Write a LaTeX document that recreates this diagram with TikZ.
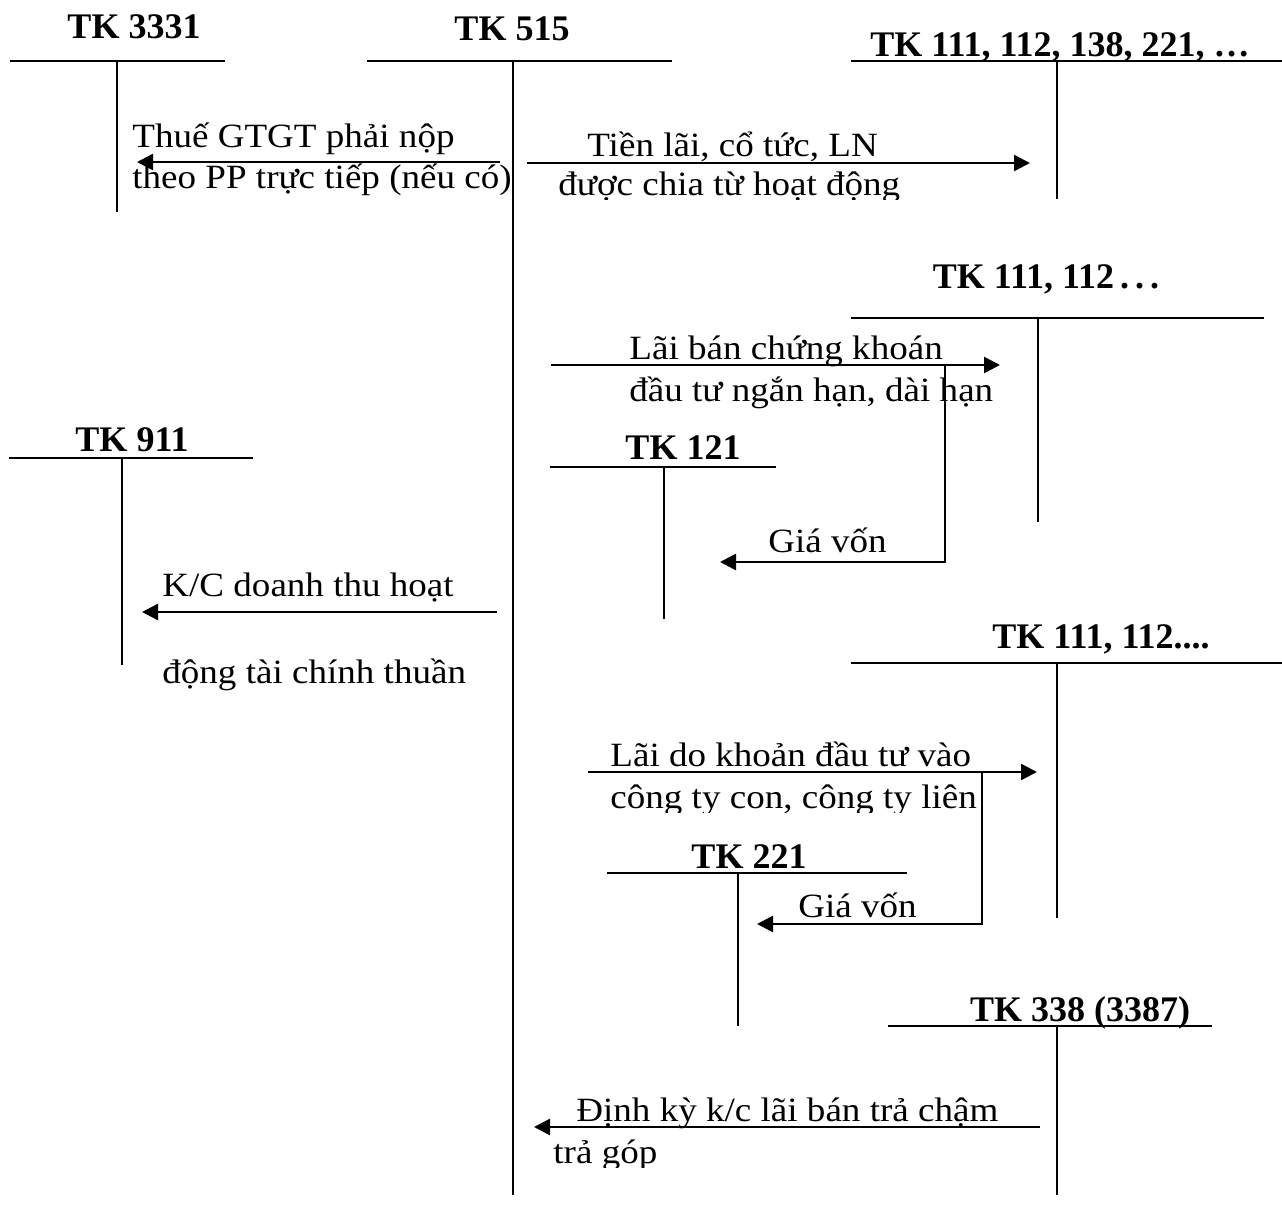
\documentclass[tikz,border=0pt]{standalone}
\usepackage{fontspec}
\setmainfont{Liberation Serif}
\newfontfamily\widefont{Liberation Serif}[FakeStretch=1.09]
\usetikzlibrary{arrows.meta,positioning}

\begin{document}
\begin{tikzpicture}[
    x=0.5pt, y=-0.5pt,
    every node/.style={inner sep=0pt, font=\widefont\fontsize{17}{20}\selectfont},
    acc/.style={anchor=base, font=\fontsize{18}{22}\selectfont\bfseries},
    txt/.style={anchor=base west},
    tline/.style={line width=1pt},
    arr/.style={-{Triangle[length=8pt,width=8pt]}, line width=1.3pt}
]
\fill[white] (0,0) rectangle (1282,1225);
\useasboundingbox (0,0) rectangle (1282,1225);

% tai khoan chu T
\node[acc] (k3331) at (134,39)  {TK 3331};
\draw[tline] (10,61) -- (225,61);
\draw[tline] (117,61) -- (117,212);

\node[acc] (k515) at (512,41) {TK 515};
\draw[tline] (367,61) -- (672,61);
\draw[tline] (513,61) -- (513,1195);

\node[acc] (k111a) at (1060,57) {TK 111, 112, 138, 221, …};
\draw[tline] (851,61) -- (1282,61);
\draw[tline] (1057,61) -- (1057,199);

\node[acc] (k111b) at (1046,289) {TK 111, 112\,.\,.\,.};
\draw[tline] (851,318) -- (1264,318);
\draw[tline] (1038,318) -- (1038,522);

\node[acc] (k121) at (683,460) {TK 121};
\draw[tline] (550,467) -- (776,467);
\draw[tline] (664,467) -- (664,619);

\node[acc] (k911) at (132,452) {TK 911};
\draw[tline] (9,458) -- (253,458);
\draw[tline] (122,458) -- (122,665);

\node[acc] (k111c) at (1101,649) {TK 111, 112....};
\draw[tline] (851,663) -- (1282,663);
\draw[tline] (1057,663) -- (1057,918);

\node[acc] (k221) at (749,868) {TK 221};
\draw[tline] (607,873) -- (907,873);
\draw[tline] (738,873) -- (738,1026);

\node[acc] (k338) at (1080,1021) {TK 338 (3387)};
\draw[tline] (888,1026) -- (1212,1026);
\draw[tline] (1057,1026) -- (1057,1195);

% but toan
\coordinate (thueS) at (500,162);
\coordinate (thueE) at (137,162);
\draw[arr] (thueS) -- (thueE);
\node[txt] (thueA) at (132,148) {Thuế GTGT phải nộp};
\node[txt] (thueB) at (132,189) {theo PP trực tiếp (nếu có)};

\coordinate (laiS) at (527,163);
\coordinate (laiE) at (1030,163);
\draw[arr] (laiS) -- (laiE);
\node[txt] (laiA) at (587,157) {Tiền lãi, cổ tức, LN};
\begin{scope}
  \clip (540,166) rectangle (930,200);
  \node[txt] (laiB) at (558,196) {được chia từ hoạt động};
\end{scope}

\coordinate (ckS) at (551,365);
\coordinate (ckE) at (1000,365);
\coordinate (ckV) at (945,365);
\coordinate (ckG) at (720,562);
\draw[arr] (ckS) -- (ckE);
\draw[arr] (ckV) |- (ckG);
\node[txt] (ckA) at (629,360) {Lãi bán chứng khoán};
\node[txt] (ckB) at (629,402) {đầu tư ngắn hạn, dài hạn};
\node[txt] (ckC) at (768,553) {Giá vốn};

\coordinate (kcS) at (497,612);
\coordinate (kcE) at (142,612);
\draw[arr] (kcS) -- (kcE);
\node[txt] (kcA) at (162,597) {K/C doanh thu hoạt};
\node[txt] (kcB) at (162,683) {động tài chính thuần};

\coordinate (ctS) at (588,772);
\coordinate (ctE) at (1037,772);
\coordinate (ctV) at (982,772);
\coordinate (ctG) at (757,924);
\draw[arr] (ctS) -- (ctE);
\draw[arr] (ctV) |- (ctG);
\node[txt] (ctA) at (610,766) {Lãi do khoản đầu tư vào};
\begin{scope}
  \clip (590,776) rectangle (980,812);
  \node[txt] (ctB) at (610,808) {công ty con, công ty liên};
\end{scope}
\node[txt] (ctC) at (798,917) {Giá vốn};

\coordinate (dkS) at (1040,1127);
\coordinate (dkE) at (534,1127);
\draw[arr] (dkS) -- (dkE);
\node[txt] (dkA) at (576,1121) {Định kỳ k/c lãi bán trả chậm};
\begin{scope}
  \clip (540,1132) rectangle (700,1167);
  \node[txt] (dkB) at (553,1163) {trả góp};
\end{scope}
\end{tikzpicture}
\end{document}
